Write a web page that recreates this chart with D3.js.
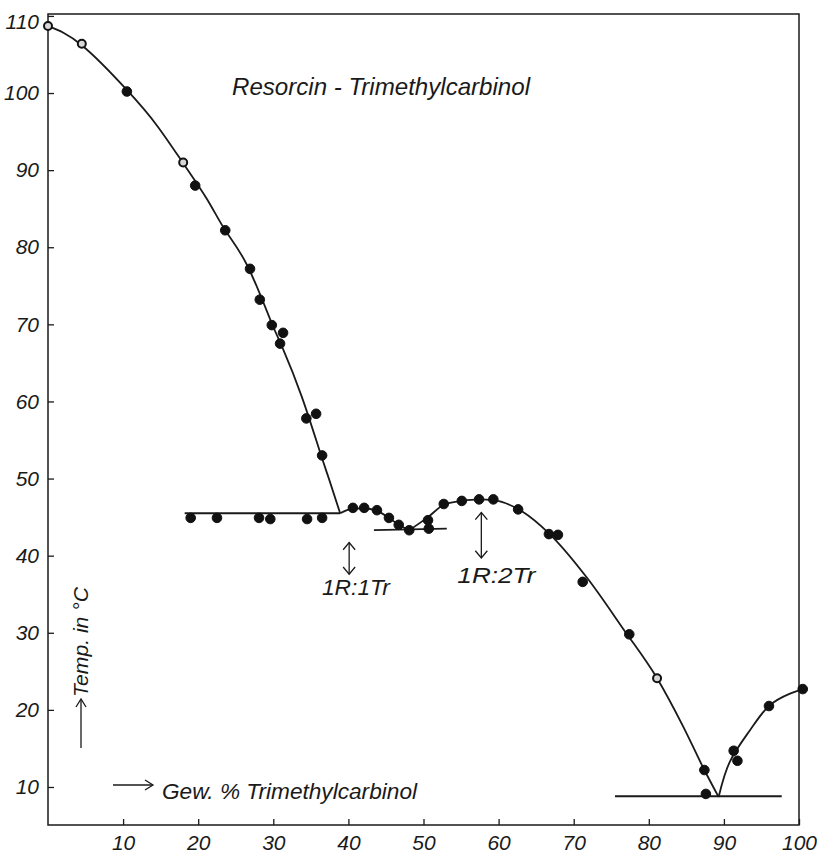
<!DOCTYPE html>
<html>
<head>
<meta charset="utf-8">
<script src="https://cdn.jsdelivr.net/npm/d3@7/dist/d3.min.js"></script>
<style>
  html, body { margin: 0; padding: 0; background: #fff; }
  svg text { font-family: "Liberation Sans", Arial, sans-serif; font-style: italic; fill: #1a1a1a; }
</style>
</head>
<body>
<div id="chart"></div>
<script>
// ==========================================
// DATA
// ==========================================

const xTicks = [10, 20, 30, 40, 50, 60, 70, 80, 90, 100];
const yTicks = [10, 20, 30, 40, 50, 60, 70, 80, 90, 100, 110];

// measured points: [gew.% trimethylcarbinol, temp °C, open?]
const measured = [
    [0, 108.7, 1], [4.5, 106.4, 1], [10.5, 100.2, 0], [18.0, 91.0, 1], [19.6, 88.0, 0],
    [23.6, 82.2, 0], [26.9, 77.2, 0], [28.2, 73.2, 0], [29.8, 69.9, 0], [31.3, 68.9, 0],
    [30.9, 67.5, 0], [34.4, 57.8, 0], [35.7, 58.4, 0], [36.5, 53.0, 0],
    [19.0, 44.9, 0], [22.5, 44.9, 0], [28.1, 44.9, 0], [29.6, 44.75, 0], [34.5, 44.75, 0], [36.5, 44.9, 0],
    [40.6, 46.2, 0], [42.1, 46.2, 0], [43.8, 45.9, 0], [45.4, 44.9, 0], [46.7, 44.0, 0], [48.1, 43.3, 0],
    [50.6, 44.6, 0], [50.7, 43.5, 0], [52.7, 46.7, 0], [55.1, 47.1, 0], [57.4, 47.3, 0], [59.3, 47.3, 0],
    [62.6, 46.0, 0], [66.7, 42.8, 0], [67.9, 42.7, 0], [71.2, 36.6, 0], [77.4, 29.8, 0], [81.1, 24.1, 1],
    [87.4, 12.2, 0], [87.6, 9.1, 0], [91.3, 14.7, 0], [91.8, 13.4, 0], [96.0, 20.5, 0], [100.5, 22.7, 0]
];

// drawn liquidus curves (knots)
const resorcinBranch = [[0, 108.7], [4.5, 106.2], [10.5, 100.4], [14.5, 95.8], [18.0, 90.9],
    [21.2, 86.2], [23.6, 82.2], [26.5, 77.7], [29.6, 70.6], [31.3, 66.8], [33.8, 60.6], [36.2, 53.5],
    [37.5, 49.7], [38.9, 45.5]];
const compound11Branch = [[38.9, 45.5], [40.6, 46.1], [42.1, 46.15], [43.8, 45.8], [45.4, 44.9], [46.7, 44.0], [48.1, 43.3]];
const compound12Branch = [[48.1, 43.3], [50.6, 45.0], [52.7, 46.6], [55.1, 47.1], [57.4, 47.3], [59.3, 47.2],
    [63.2, 45.7], [66.7, 42.9], [71.8, 37.1], [76.6, 30.5], [81.1, 24.1], [84.6, 17.8], [87.4, 12.2], [89.3, 8.7]];
const carbinolBranch = [[89.3, 8.7], [90.8, 13.3], [93.5, 17.4], [96.0, 20.5], [98.8, 22.1], [100.5, 22.7]];

// eutectic horizontals
const eutectics = [
    [[18.2, 45.5], [38.9, 45.5]],
    [[43.4, 43.3], [53.1, 43.5]],
    [[75.5, 8.8], [97.7, 8.8]]
];

// compound markers: [x, yTop, yBottom, labelX, labelY, text]
const compounds = [
    [40.1, 41.7, 37.6, 41.0, 34.9, '1R:1Tr'],
    [57.7, 45.6, 39.7, 59.7, 36.5, '1R:2Tr']
];

const title = 'Resorcin - Trimethylcarbinol';
const xLabel = 'Gew. % Trimethylcarbinol';
const yLabel = 'Temp. in °C';

// ==========================================
// LAYOUT
// ==========================================

const W = 825, H = 854;
const INK = '#1a1a1a';

const svg = d3.select('#chart').append('svg')
    .attr('width', W)
    .attr('height', H);

const x = d3.scaleLinear().domain([0, 100]).range([48, 799]);
const y = d3.scaleLinear().domain([5.07, 110.25]).range([825, 14]);

// frame
svg.append('rect')
    .attr('x', x(0)).attr('y', y.range()[1])
    .attr('width', x(100) - x(0)).attr('height', y.range()[0] - y.range()[1])
    .attr('fill', 'none').attr('stroke', INK).attr('stroke-width', 1.5);

const yAxis = d3.axisLeft(y).tickValues(yTicks).tickSize(-6).tickPadding(9).tickFormat(d3.format('d'));
const gy = svg.append('g').attr('transform', `translate(${x(0)},0)`).call(yAxis);
gy.select('.domain').remove();
gy.selectAll('line').attr('stroke', INK).attr('stroke-width', 1.3);
gy.selectAll('text').attr('font-size', 21).attr('fill', INK)
    .attr('font-family', '"Liberation Sans", Arial, sans-serif').attr('font-style', 'italic');
gy.selectAll('.tick').filter(d => d === 110).select('text').attr('dy', '0.62em');

const xAxis = d3.axisBottom(x).tickValues(xTicks).tickSize(-6).tickPadding(10).tickFormat(d3.format('d'));
const gx = svg.append('g').attr('transform', `translate(0,${y.range()[0]})`).call(xAxis);
gx.select('.domain').remove();
gx.selectAll('line').attr('stroke', INK).attr('stroke-width', 1.3);
gx.selectAll('text').attr('font-size', 21).attr('fill', INK)
    .attr('font-family', '"Liberation Sans", Arial, sans-serif').attr('font-style', 'italic');

// ==========================================
// CURVES
// ==========================================

const line = d3.line()
    .x(d => x(d[0]))
    .y(d => y(d[1]))
    .curve(d3.curveMonotoneX);

const smoothLine = d3.line()
    .x(d => x(d[0]))
    .y(d => y(d[1]))
    .curve(d3.curveNatural);

[[resorcinBranch, smoothLine], [compound11Branch, line], [compound12Branch, line], [carbinolBranch, smoothLine]]
    .forEach(([branch, gen]) => {
        svg.append('path')
            .datum(branch)
            .attr('d', gen)
            .attr('fill', 'none')
            .attr('stroke', INK)
            .attr('stroke-width', 1.8);
    });

eutectics.forEach(seg => {
    svg.append('path')
        .datum(seg)
        .attr('d', d3.line().x(d => x(d[0])).y(d => y(d[1])))
        .attr('fill', 'none')
        .attr('stroke', INK)
        .attr('stroke-width', 1.8);
});

// points
svg.append('g').selectAll('circle')
    .data(measured)
    .join('circle')
    .attr('cx', d => x(d[0]))
    .attr('cy', d => y(d[1]))
    .attr('r', d => d[2] ? 4 : 4.8)
    .attr('fill', d => d[2] ? '#d8d8d8' : '#111')
    .attr('stroke', '#111')
    .attr('stroke-width', d => d[2] ? 2 : 1);

// ==========================================
// ANNOTATIONS
// ==========================================

function vArrow(g, px, y1, y2, head) {
    g.append('line')
        .attr('x1', px).attr('x2', px).attr('y1', y1).attr('y2', y2)
        .attr('stroke', INK).attr('stroke-width', 1.3);
    g.append('path')
        .attr('d', `M${px - head},${y1 + head * 1.2}L${px},${y1}L${px + head},${y1 + head * 1.2}`)
        .attr('fill', 'none').attr('stroke', INK).attr('stroke-width', 1.3);
    g.append('path')
        .attr('d', `M${px - head},${y2 - head * 1.2}L${px},${y2}L${px + head},${y2 - head * 1.2}`)
        .attr('fill', 'none').attr('stroke', INK).attr('stroke-width', 1.3);
}

const ann = svg.append('g');
compounds.forEach(c => {
    vArrow(ann, x(c[0]), y(c[1]), y(c[2]), 6);
    ann.append('text')
        .attr('x', x(c[3])).attr('y', y(c[4]))
        .attr('text-anchor', 'middle')
        .attr('font-size', 22)
        .attr('textLength', c[5] === '1R:1Tr' ? 68 : 78)
        .attr('lengthAdjust', 'spacingAndGlyphs')
        .text(c[5]);
});

// title
svg.append('text')
    .attr('x', 232).attr('y', 95)
    .attr('font-size', 24)
    .attr('textLength', 298)
    .attr('lengthAdjust', 'spacingAndGlyphs')
    .text(title);

// x label with arrow
ann.append('line').attr('x1', 113).attr('x2', 152).attr('y1', 785).attr('y2', 785)
    .attr('stroke', INK).attr('stroke-width', 1.3);
ann.append('path').attr('d', 'M145,780L153,785L145,790')
    .attr('fill', 'none').attr('stroke', INK).attr('stroke-width', 1.3);
svg.append('text')
    .attr('x', 162).attr('y', 799)
    .attr('font-size', 22)
    .attr('textLength', 255)
    .attr('lengthAdjust', 'spacingAndGlyphs')
    .text(xLabel);

// y label with arrow
ann.append('line').attr('x1', 81).attr('x2', 81).attr('y1', 748).attr('y2', 700)
    .attr('stroke', INK).attr('stroke-width', 1.3);
ann.append('path').attr('d', 'M76,707L81,699L86,707')
    .attr('fill', 'none').attr('stroke', INK).attr('stroke-width', 1.3);
svg.append('text')
    .attr('transform', 'translate(88,697) rotate(-90)')
    .attr('font-size', 21)
    .attr('textLength', 110)
    .attr('lengthAdjust', 'spacingAndGlyphs')
    .text(yLabel);
</script>
</body>
</html>
